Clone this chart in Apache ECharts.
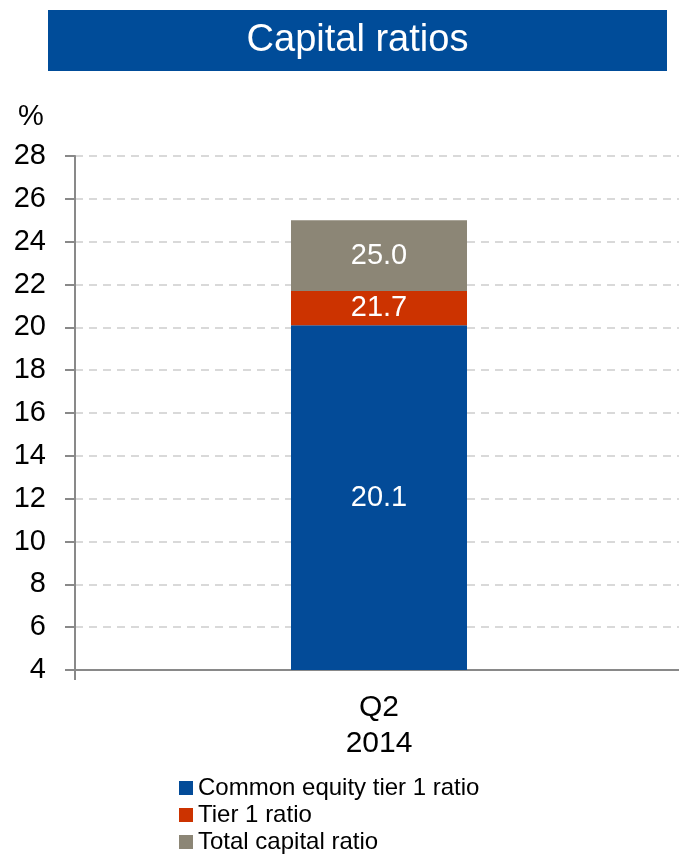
<!DOCTYPE html>
<html>
<head>
<meta charset="utf-8">
<script src="https://cdn.jsdelivr.net/npm/echarts@6/dist/echarts.min.js"></script>
<style>
html,body{margin:0;padding:0;background:#fff;overflow:hidden;}
#chart{width:683px;height:855px;}
</style>
</head>
<body>
<div id="chart"></div>
<script>
// ---- data ----
const categories = ['Q2\n2014'];
const seriesNames = ['Common equity tier 1 ratio', 'Tier 1 ratio', 'Total capital ratio'];
const cet1Ratio = [20.1];
const tier1Ratio = [21.7];
const totalCapitalRatio = [25.0];
const yTicks = [4, 6, 8, 10, 12, 14, 16, 18, 20, 22, 24, 26, 28];
const titleText = 'Capital ratios';
const unitText = '%';

// stacked segments derived from the cumulative ratios
const seg1 = cet1Ratio.slice();
const seg2 = tier1Ratio.map((v, i) => +(v - cet1Ratio[i]).toFixed(2));
const seg3 = totalCapitalRatio.map((v, i) => +(v - tier1Ratio[i]).toFixed(2));
const totals = [cet1Ratio, tier1Ratio, totalCapitalRatio];

const FONT = '"Liberation Sans", Arial, sans-serif';
const colors = ['#034b98', '#cc3300', '#8c8676'];

const chart = echarts.init(document.getElementById('chart'), null, {renderer: 'canvas'});

function mkSeries(idx, data) {
  return {
    name: seriesNames[idx],
    type: 'bar',
    stack: 'ratios',
    data: data,
    barWidth: 176,
    itemStyle: {color: colors[idx]},
    label: {
      show: true,
      position: 'inside',
      color: '#fff',
      fontFamily: FONT,
      fontSize: 29,
      formatter: p => totals[idx][p.dataIndex].toFixed(1)
    },
    emphasis: {disabled: true},
    animation: false
  };
}

chart.setOption({
  animation: false,
  color: colors,
  grid: {left: 75, right: 0, top: 156, height: 514, containLabel: false},
  graphic: [
    {type: 'rect', shape: {x: 48, y: 10, width: 619, height: 61}, style: {fill: '#004c99'}},
    {type: 'text', x: 357.5, y: 41, style: {text: titleText, fill: '#fff', font: '38px ' + FONT, textAlign: 'center', textVerticalAlign: 'middle'}},
    {type: 'text', x: 31, y: 117, style: {text: unitText, fill: '#000', font: '29px ' + FONT, textAlign: 'center', textVerticalAlign: 'middle'}}
  ],
  legend: {
    orient: 'vertical',
    left: 179,
    top: 776,
    height: 120,
    padding: 0,
    itemWidth: 14,
    itemHeight: 14,
    itemGap: 3,
    icon: 'rect',
    selectedMode: false,
    textStyle: {fontFamily: FONT, fontSize: 24, lineHeight: 24, color: '#000', padding: [0, 0, 0, 0]},
    data: seriesNames
  },
  xAxis: {
    type: 'category',
    data: categories,
    axisLine: {lineStyle: {color: '#898989', width: 2}},
    axisTick: {show: true, length: 10, lineStyle: {color: '#898989', width: 2}},
    axisLabel: {color: '#000', fontFamily: FONT, fontSize: 30, lineHeight: 36, margin: 20}
  },
  yAxis: {
    type: 'value',
    min: yTicks[0],
    max: yTicks[yTicks.length - 1],
    interval: 2,
    startValue: yTicks[0],
    axisLine: {show: true, lineStyle: {color: '#898989', width: 2}},
    axisTick: {show: true, length: 10, lineStyle: {color: '#898989', width: 2}},
    axisLabel: {color: '#000', fontFamily: FONT, fontSize: 29, margin: 29},
    splitLine: {show: true, lineStyle: {color: '#d9d9d9', width: 2, type: [8, 6]}}
  },
  series: [mkSeries(0, seg1), mkSeries(1, seg2), mkSeries(2, seg3)]
});
</script>
</body>
</html>
